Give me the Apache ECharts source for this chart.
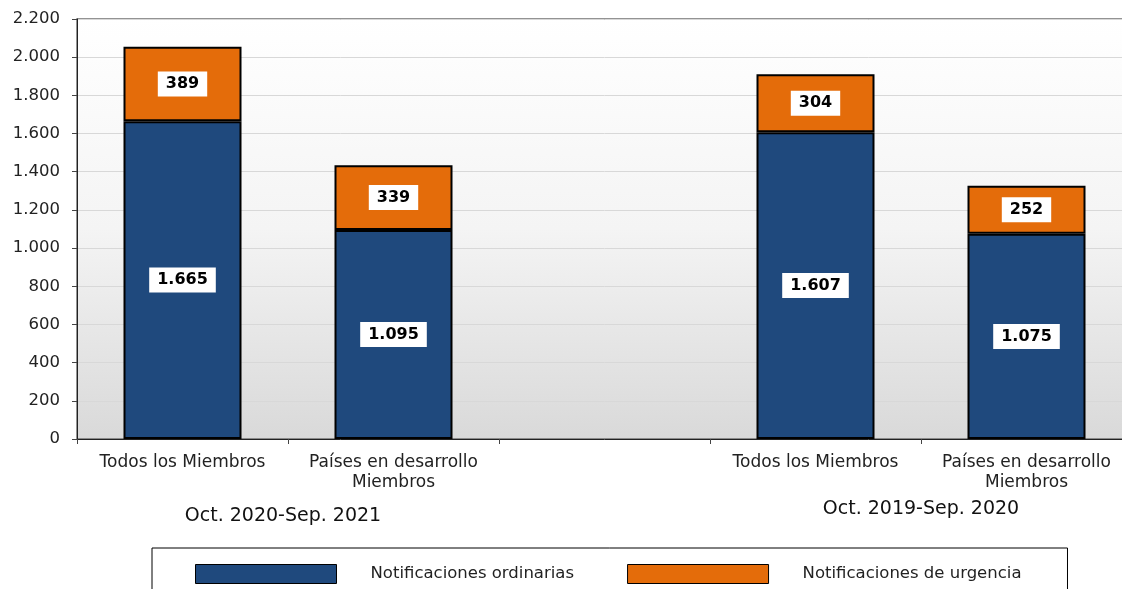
<!DOCTYPE html>
<html>
<head>
<meta charset="utf-8">
<script src="https://cdn.jsdelivr.net/npm/echarts@6/dist/echarts.min.js"></script>
<style>
  html, body { margin: 0; padding: 0; background: #fff; overflow: hidden; }
  #chart { width: 1140px; height: 589px; }
</style>
</head>
<body>
<div id="chart"></div>
<script>
// categorías (la tercera queda vacía para separar los dos periodos)
const categories = ["Todos los Miembros", "Países en desarrollo\nMiembros", "", "Todos los Miembros", "Países en desarrollo\nMiembros"];
const periodLabels = ["Oct. 2020-Sep. 2021", "Oct. 2019-Sep. 2020"];
const ordinarias = [1665, 1095, null, 1607, 1075];
const urgencia = [389, 339, null, 304, 252];
const seriesNames = ["Notificaciones ordinarias", "Notificaciones de urgencia"];

const FONT = "DejaVu Sans, Verdana, sans-serif";

// separador de miles con punto
const fmt = (v) => String(v).replace(/\B(?=(\d{3})+(?!\d))/g, ".");

const chart = echarts.init(document.getElementById("chart"));

const labelStyle = {
  show: true,
  position: "inside",
  color: "#000",
  fontWeight: "bold",
  fontSize: 16,
  fontFamily: FONT,
  backgroundColor: "#fff",
  padding: [5, 8, 4, 8],
  formatter: (p) => fmt(p.value),
};

const option = {
  animation: false,
  textStyle: { fontFamily: FONT },
  // el área del gráfico sigue un poco más allá del borde derecho de la ventana
  grid: {
    left: 77,
    right: 8,
    top: 19,
    bottom: 150,
    show: true,
    borderColor: "#707070",
    borderWidth: 1.5,
    backgroundColor: new echarts.graphic.LinearGradient(0, 0, 0, 1, [
      { offset: 0, color: "#ffffff" },
      { offset: 0.5, color: "#f4f4f4" },
      { offset: 1, color: "#d9d9d9" },
    ]),
  },
  xAxis: {
    type: "category",
    data: categories,
    axisLine: { lineStyle: { color: "#222", width: 1 } },
    axisTick: { show: true, length: 5, lineStyle: { color: "#444" } },
    axisLabel: {
      color: "#222",
      fontSize: 17,
      fontFamily: FONT,
      lineHeight: 20,
      margin: 14,
      interval: 0,
    },
  },
  yAxis: {
    type: "value",
    min: 0,
    max: 2200,
    interval: 200,
    axisLine: { show: true, lineStyle: { color: "#222", width: 1 } },
    axisTick: { show: true, length: 5, lineStyle: { color: "#444" } },
    axisLabel: {
      color: "#222",
      fontSize: 16.5,
      fontFamily: FONT,
      margin: 17,
      formatter: (v) => fmt(v),
    },
    splitLine: { lineStyle: { color: "#d8d8d8", width: 1 } },
  },
  legend: {
    left: 152,
    top: 548,
    data: seriesNames,
    itemWidth: 141,
    itemHeight: 19,
    itemGap: 53,
    padding: [16, 46, 20, 43],
    borderColor: "#000",
    borderWidth: 1,
    icon: "rect",
    itemStyle: { borderColor: "#000", borderWidth: 1 },
    textStyle: {
      color: "#222",
      fontSize: 16.5,
      fontFamily: FONT,
      padding: [0, 0, 0, 29],
    },
  },
  graphic: [
    {
      type: "text",
      x: 283,
      y: 516,
      style: { text: periodLabels[0], fill: "#111", font: "19px " + FONT, align: "center", verticalAlign: "middle" },
    },
    {
      type: "text",
      x: 921,
      y: 509,
      style: { text: periodLabels[1], fill: "#111", font: "19px " + FONT, align: "center", verticalAlign: "middle" },
    },
  ],
  series: [
    {
      name: seriesNames[0],
      type: "bar",
      stack: "total",
      barWidth: 118,
      data: ordinarias,
      itemStyle: { color: "#1f497d", borderColor: "#000", borderWidth: 2 },
      label: labelStyle,
    },
    {
      name: seriesNames[1],
      type: "bar",
      stack: "total",
      barWidth: 118,
      data: urgencia,
      itemStyle: { color: "#e46c0a", borderColor: "#000", borderWidth: 2 },
      label: labelStyle,
    },
  ],
};

chart.setOption(option);
</script>
</body>
</html>
